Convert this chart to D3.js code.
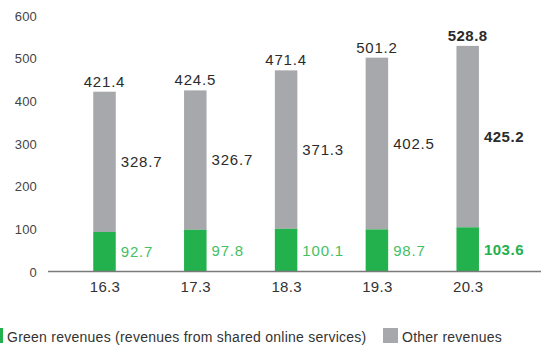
<!DOCTYPE html>
<html>
<head>
<meta charset="utf-8">
<script src="https://cdn.jsdelivr.net/npm/d3@7"></script>
<style>
  html, body { margin: 0; padding: 0; background: #fff; }
  svg { display: block; font-family: "Liberation Sans", Arial, Helvetica, sans-serif; }
</style>
</head>
<body>
<svg id="chart" width="542" height="349"></svg>
<script>
// Revenue breakdown by fiscal period
const categories = ["16.3", "17.3", "18.3", "19.3", "20.3"];
const greenRevenues = [92.7, 97.8, 100.1, 98.7, 103.6];
const otherRevenues = [328.7, 326.7, 371.3, 402.5, 425.2];
const totals = [421.4, 424.5, 471.4, 501.2, 528.8];
const yTicks = [0, 100, 200, 300, 400, 500, 600];
const seriesNames = ["Green revenues (revenues from shared online services)", "Other revenues"];

const GREEN = "#22b14c";
const GREEN_TEXT = "#45bf63";
const GRAY = "#a7a8ab";
const TEXT = "#2b2b2b";

const svg = d3.select("#chart");
const latest = categories[categories.length - 1];

const x = d3.scalePoint().domain(categories).range([104.5, 467.7]);
const y = d3.scaleLinear().domain([0, 600]).range([271.5, 15.5]);
const barW = 22.5;

const rows = categories.map((c, i) => ({
  cat: c, green: greenRevenues[i], other: otherRevenues[i], total: totals[i]
}));

// Y axis labels (no axis line, no ticks)
const yAxis = d3.axisLeft(y).tickValues(yTicks).tickSize(0).tickPadding(0);
const yg = svg.append("g").attr("transform", "translate(37,0)").call(yAxis);
yg.select(".domain").remove();
yg.selectAll("text")
  .attr("fill", "#444")
  .style("font-size", "13px")
  .style("letter-spacing", "0.2px")
  .attr("dy", "0.36em");

// Stacked bars
const bars = svg.append("g");
bars.selectAll("rect.other").data(rows).join("rect")
  .attr("class", "other")
  .attr("x", d => x(d.cat) - barW / 2)
  .attr("width", barW)
  .attr("y", d => y(d.green + d.other))
  .attr("height", d => y(d.green) - y(d.green + d.other))
  .attr("fill", GRAY);
bars.selectAll("rect.green").data(rows).join("rect")
  .attr("class", "green")
  .attr("x", d => x(d.cat) - barW / 2)
  .attr("width", barW)
  .attr("y", d => y(d.green))
  .attr("height", d => y(0) - y(d.green))
  .attr("fill", GREEN);

// Baseline / x axis
const xAxis = d3.axisBottom(x).tickSize(0).tickPadding(0);
const xg = svg.append("g").attr("transform", `translate(0,${y(0)})`).call(xAxis);
xg.select(".domain").remove();
xg.append("line")
  .attr("x1", 48).attr("x2", 541)
  .attr("stroke", "#7a7a7a").attr("stroke-width", 1.4);
xg.selectAll(".tick text")
  .attr("fill", "#333")
  .attr("dy", 0)
  .attr("y", 20.5)
  .style("font-size", "15px")
  .style("letter-spacing", "0.3px");

const isLatest = d => d.cat === latest;
const labelSpacing = d => isLatest(d) ? "0.5px" : "0.8px";

// Total labels above bars
svg.append("g").selectAll("text").data(rows).join("text")
  .attr("x", d => x(d.cat))
  .attr("y", d => y(d.total) - 5)
  .attr("text-anchor", "middle")
  .attr("fill", TEXT)
  .style("font-size", "15px")
  .style("font-weight", d => isLatest(d) ? "bold" : "normal")
  .style("letter-spacing", labelSpacing)
  .text(d => d.total.toFixed(1));

// Other revenue labels, right of the bar at segment middle
svg.append("g").selectAll("text").data(rows).join("text")
  .attr("x", d => x(d.cat) + barW / 2 + 5)
  .attr("y", d => y(d.green + d.other / 2))
  .attr("dy", "0.36em")
  .attr("fill", TEXT)
  .style("font-size", "15px")
  .style("font-weight", d => isLatest(d) ? "bold" : "normal")
  .style("letter-spacing", labelSpacing)
  .text(d => d.other.toFixed(1));

// Green revenue labels
svg.append("g").selectAll("text").data(rows).join("text")
  .attr("x", d => x(d.cat) + barW / 2 + 5)
  .attr("y", d => y(d.green / 2))
  .attr("dy", "0.36em")
  .attr("fill", d => isLatest(d) ? GREEN : GREEN_TEXT)
  .style("font-size", "15px")
  .style("font-weight", d => isLatest(d) ? "bold" : "normal")
  .style("letter-spacing", labelSpacing)
  .text(d => d.green.toFixed(1));

// Legend
const legend = svg.append("g");
const legendItems = [
  { name: seriesNames[0], color: GREEN, sx: -12, tx: 7 },
  { name: seriesNames[1], color: GRAY, sx: 383, tx: 402 }
];
legend.selectAll("rect").data(legendItems).join("rect")
  .attr("x", d => d.sx).attr("y", 328)
  .attr("width", 15).attr("height", 15)
  .attr("fill", d => d.color);
legend.selectAll("text").data(legendItems).join("text")
  .attr("x", d => d.tx).attr("y", 342)
  .attr("fill", "#333")
  .style("font-size", "14px")
  .style("letter-spacing", "0.25px")
  .text(d => d.name);
</script>
</body>
</html>
